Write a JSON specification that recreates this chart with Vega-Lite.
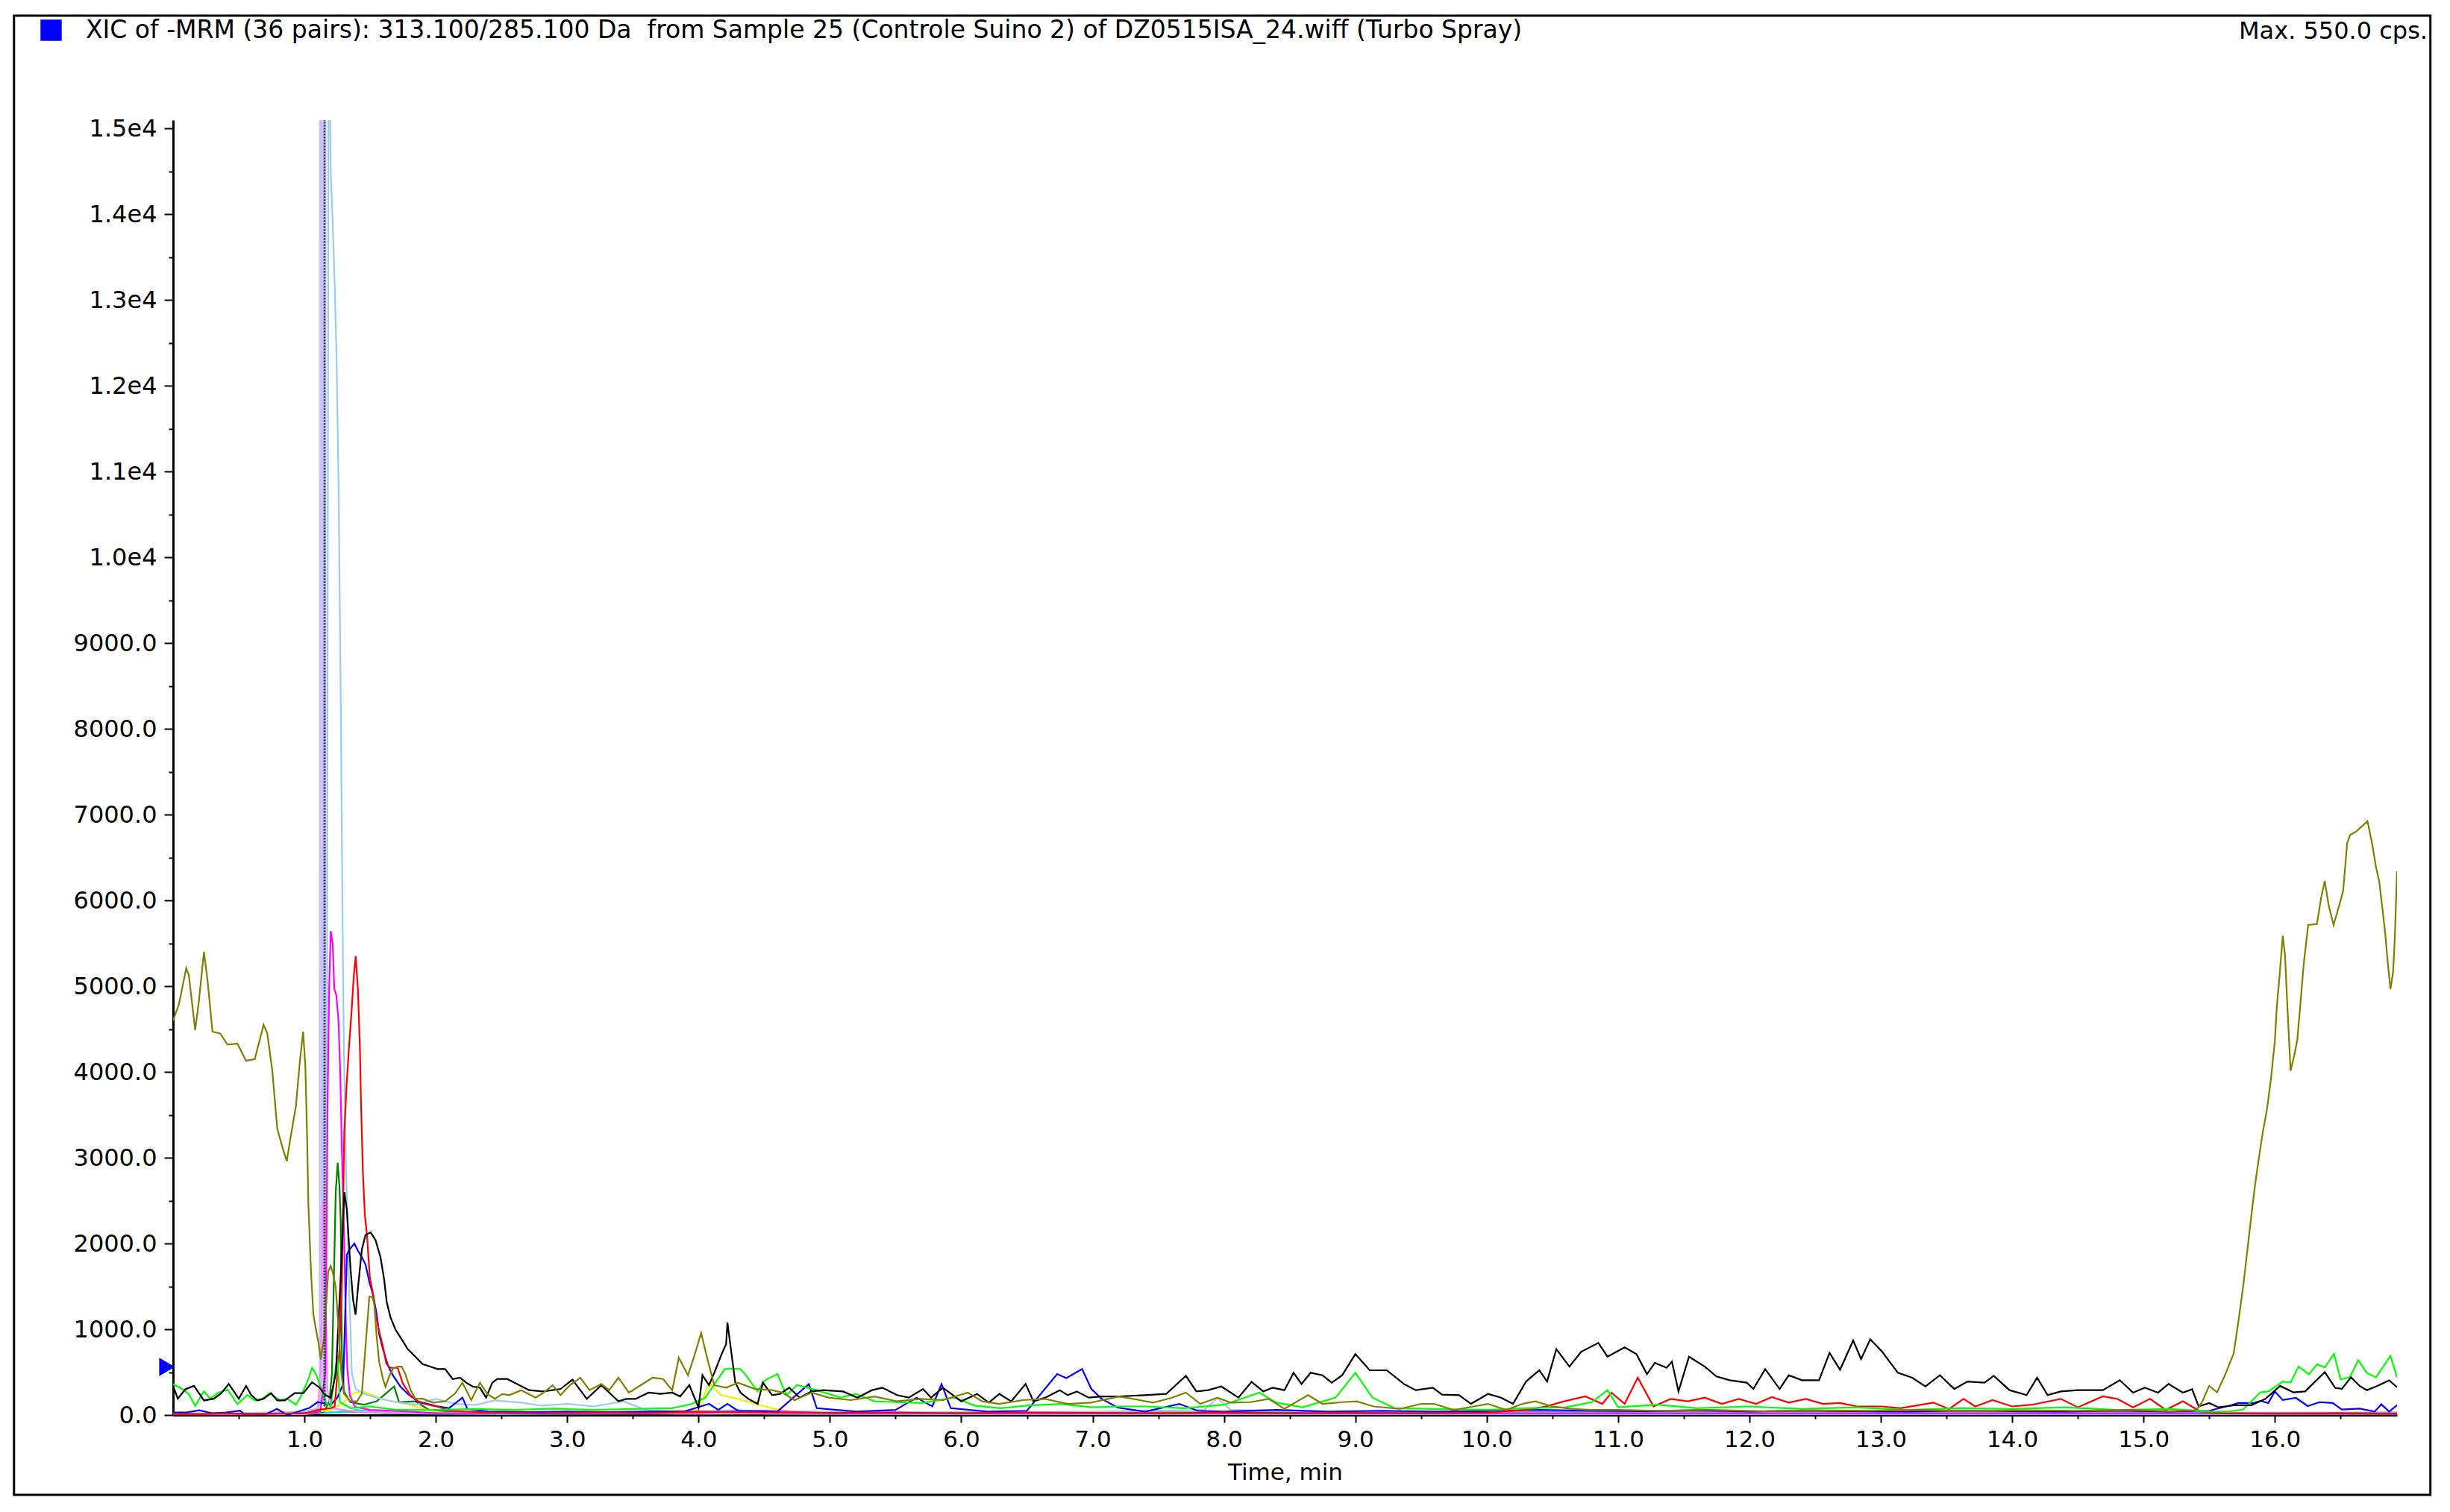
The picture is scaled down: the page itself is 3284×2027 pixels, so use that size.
{
  "$schema": "https://vega.github.io/schema/vega-lite/v6.json",
  "autosize": "none",
  "width": 2981,
  "height": 1736,
  "padding": {"left": 232, "top": 161, "right": 71, "bottom": 130},
  "background": "#ffffff",
  "config": {
    "view": {"stroke": null},
    "font": "DejaVu Sans"
  },
  "title": {
    "text": "Max. 550.0 cps.",
    "anchor": "end",
    "frame": "group",
    "font": "DejaVu Sans",
    "fontSize": 32,
    "fontWeight": "normal",
    "color": "#000000",
    "offset": -39,
    "dx": 41
  },
  "datasets": {
    "main": [
      {"s":"gray","t":0,"v":15},{"s":"gray","t":1,"v":10},{"s":"gray","t":1.3,"v":40},{"s":"gray","t":1.6,"v":25},{"s":"gray","t":2,"v":15},{"s":"gray","t":3,"v":20},{"s":"gray","t":4,"v":15},{"s":"gray","t":5,"v":20},{"s":"gray","t":6,"v":15},{"s":"gray","t":7,"v":20},{"s":"gray","t":8,"v":15},{"s":"gray","t":9,"v":20},{"s":"gray","t":10,"v":15},{"s":"gray","t":11,"v":20},{"s":"gray","t":12,"v":15},{"s":"gray","t":13,"v":20},{"s":"gray","t":14,"v":15},{"s":"gray","t":15,"v":20},{"s":"gray","t":16,"v":15},{"s":"gray","t":16.93,"v":15},
      {"s":"cyan","t":0,"v":8},{"s":"cyan","t":1.2,"v":30},{"s":"cyan","t":1.4,"v":60},{"s":"cyan","t":1.6,"v":20},{"s":"cyan","t":2.5,"v":10},{"s":"cyan","t":4.0,"v":20},{"s":"cyan","t":4.3,"v":60},{"s":"cyan","t":4.5,"v":15},{"s":"cyan","t":6,"v":8},{"s":"cyan","t":8,"v":10},{"s":"cyan","t":10,"v":8},{"s":"cyan","t":12,"v":10},{"s":"cyan","t":14,"v":8},{"s":"cyan","t":16,"v":10},{"s":"cyan","t":16.5,"v":25},{"s":"cyan","t":16.93,"v":30},
      {"s":"dkgreen","t":0,"v":5},{"s":"dkgreen","t":0.5,"v":10},{"s":"dkgreen","t":1.0,"v":10},{"s":"dkgreen","t":1.15,"v":40},{"s":"dkgreen","t":1.19,"v":160},{"s":"dkgreen","t":1.209,"v":478},{"s":"dkgreen","t":1.228,"v":1870},{"s":"dkgreen","t":1.238,"v":2595},{"s":"dkgreen","t":1.253,"v":2942},{"s":"dkgreen","t":1.266,"v":2681},{"s":"dkgreen","t":1.276,"v":2276},{"s":"dkgreen","t":1.285,"v":710},{"s":"dkgreen","t":1.3,"v":275},{"s":"dkgreen","t":1.35,"v":150},{"s":"dkgreen","t":1.45,"v":120},{"s":"dkgreen","t":1.55,"v":160},{"s":"dkgreen","t":1.683,"v":333},{"s":"dkgreen","t":1.72,"v":150},{"s":"dkgreen","t":1.844,"v":159},{"s":"dkgreen","t":1.95,"v":60},{"s":"dkgreen","t":2.2,"v":30},{"s":"dkgreen","t":3,"v":30},{"s":"dkgreen","t":4,"v":40},{"s":"dkgreen","t":5,"v":30},{"s":"dkgreen","t":6,"v":30},{"s":"dkgreen","t":7,"v":30},{"s":"dkgreen","t":8,"v":30},{"s":"dkgreen","t":9,"v":30},{"s":"dkgreen","t":10,"v":30},{"s":"dkgreen","t":11,"v":40},{"s":"dkgreen","t":12,"v":30},{"s":"dkgreen","t":13,"v":30},{"s":"dkgreen","t":14,"v":30},{"s":"dkgreen","t":15,"v":30},{"s":"dkgreen","t":16,"v":20},{"s":"dkgreen","t":16.93,"v":20},
      {"s":"yellow","t":0,"v":10},{"s":"yellow","t":0.5,"v":10},{"s":"yellow","t":1.0,"v":15},{"s":"yellow","t":1.2,"v":60},{"s":"yellow","t":1.3,"v":150},{"s":"yellow","t":1.38,"v":261},{"s":"yellow","t":1.45,"v":270},{"s":"yellow","t":1.52,"v":232},{"s":"yellow","t":1.6,"v":180},{"s":"yellow","t":1.67,"v":159},{"s":"yellow","t":1.8,"v":120},{"s":"yellow","t":2.0,"v":29},{"s":"yellow","t":2.5,"v":20},{"s":"yellow","t":3.0,"v":25},{"s":"yellow","t":3.5,"v":20},{"s":"yellow","t":4.0,"v":60},{"s":"yellow","t":4.08,"v":377},{"s":"yellow","t":4.17,"v":232},{"s":"yellow","t":4.3,"v":188},{"s":"yellow","t":4.43,"v":130},{"s":"yellow","t":4.56,"v":80},{"s":"yellow","t":4.7,"v":40},{"s":"yellow","t":5,"v":25},{"s":"yellow","t":6,"v":20},{"s":"yellow","t":7,"v":20},{"s":"yellow","t":8,"v":20},{"s":"yellow","t":10,"v":20},{"s":"yellow","t":12,"v":20},{"s":"yellow","t":14,"v":20},{"s":"yellow","t":16,"v":20},{"s":"yellow","t":16.93,"v":20},
      {"s":"ltblue","t":0,"v":20},{"s":"ltblue","t":0.5,"v":20},{"s":"ltblue","t":1.0,"v":40},{"s":"ltblue","t":1.1,"v":80},{"s":"ltblue","t":1.15,"v":200},{"s":"ltblue","t":1.17,"v":3000},{"s":"ltblue","t":1.185,"v":17000},{"s":"ltblue","t":1.2,"v":14500},{"s":"ltblue","t":1.215,"v":13900},{"s":"ltblue","t":1.23,"v":13200},{"s":"ltblue","t":1.245,"v":12300},{"s":"ltblue","t":1.26,"v":10800},{"s":"ltblue","t":1.276,"v":8400},{"s":"ltblue","t":1.29,"v":5800},{"s":"ltblue","t":1.3,"v":4300},{"s":"ltblue","t":1.317,"v":2855},{"s":"ltblue","t":1.342,"v":1406},{"s":"ltblue","t":1.361,"v":478},{"s":"ltblue","t":1.39,"v":304},{"s":"ltblue","t":1.45,"v":250},{"s":"ltblue","t":1.55,"v":200},{"s":"ltblue","t":1.7,"v":150},{"s":"ltblue","t":1.85,"v":120},{"s":"ltblue","t":2.0,"v":188},{"s":"ltblue","t":2.15,"v":130},{"s":"ltblue","t":2.3,"v":116},{"s":"ltblue","t":2.45,"v":170},{"s":"ltblue","t":2.65,"v":145},{"s":"ltblue","t":2.8,"v":110},{"s":"ltblue","t":3.0,"v":130},{"s":"ltblue","t":3.2,"v":100},{"s":"ltblue","t":3.43,"v":160},{"s":"ltblue","t":3.6,"v":58},{"s":"ltblue","t":3.8,"v":40},{"s":"ltblue","t":4.2,"v":50},{"s":"ltblue","t":5,"v":40},{"s":"ltblue","t":6,"v":30},{"s":"ltblue","t":7,"v":40},{"s":"ltblue","t":7.85,"v":60},{"s":"ltblue","t":7.95,"v":200},{"s":"ltblue","t":8.05,"v":60},{"s":"ltblue","t":9,"v":30},{"s":"ltblue","t":12,"v":30},{"s":"ltblue","t":16.93,"v":30},
      {"s":"pink","t":0,"v":5},{"s":"pink","t":1.0,"v":10},{"s":"pink","t":1.1,"v":40},{"s":"pink","t":1.125,"v":600},{"s":"pink","t":1.14,"v":2500},{"s":"pink","t":1.148,"v":2450},{"s":"pink","t":1.16,"v":1500},{"s":"pink","t":1.175,"v":300},{"s":"pink","t":1.2,"v":80},{"s":"pink","t":1.4,"v":40},{"s":"pink","t":2.0,"v":20},{"s":"pink","t":5.0,"v":15},{"s":"pink","t":10.0,"v":15},{"s":"pink","t":16.93,"v":15},
      {"s":"magenta","t":0,"v":10},{"s":"magenta","t":0.5,"v":15},{"s":"magenta","t":1.0,"v":20},{"s":"magenta","t":1.12,"v":40},{"s":"magenta","t":1.16,"v":500},{"s":"magenta","t":1.176,"v":3605},{"s":"magenta","t":1.188,"v":4970},{"s":"magenta","t":1.2,"v":5643},{"s":"magenta","t":1.215,"v":5497},{"s":"magenta","t":1.227,"v":4970},{"s":"magenta","t":1.242,"v":4900},{"s":"magenta","t":1.259,"v":4606},{"s":"magenta","t":1.273,"v":3969},{"s":"magenta","t":1.285,"v":3058},{"s":"magenta","t":1.298,"v":2374},{"s":"magenta","t":1.307,"v":1690},{"s":"magenta","t":1.317,"v":961},{"s":"magenta","t":1.326,"v":551},{"s":"magenta","t":1.345,"v":232},{"s":"magenta","t":1.384,"v":96},{"s":"magenta","t":1.5,"v":60},{"s":"magenta","t":1.8,"v":40},{"s":"magenta","t":2.0,"v":20},{"s":"magenta","t":3.0,"v":20},{"s":"magenta","t":4.0,"v":30},{"s":"magenta","t":4.5,"v":50},{"s":"magenta","t":5.0,"v":20},{"s":"magenta","t":8.0,"v":20},{"s":"magenta","t":12.0,"v":20},{"s":"magenta","t":16.93,"v":20},
      {"s":"313.100/285.100 Da","t":0,"v":30},{"s":"313.100/285.100 Da","t":0.1,"v":30},{"s":"313.100/285.100 Da","t":0.2,"v":55},{"s":"313.100/285.100 Da","t":0.3,"v":20},{"s":"313.100/285.100 Da","t":0.4,"v":30},{"s":"313.100/285.100 Da","t":0.51,"v":50},{"s":"313.100/285.100 Da","t":0.55,"v":0},{"s":"313.100/285.100 Da","t":0.7,"v":5},{"s":"313.100/285.100 Da","t":0.79,"v":72},{"s":"313.100/285.100 Da","t":0.87,"v":0},{"s":"313.100/285.100 Da","t":0.96,"v":43},{"s":"313.100/285.100 Da","t":1.04,"v":85},{"s":"313.100/285.100 Da","t":1.1,"v":150},{"s":"313.100/285.100 Da","t":1.2,"v":120},{"s":"313.100/285.100 Da","t":1.25,"v":200},{"s":"313.100/285.100 Da","t":1.295,"v":362},{"s":"313.100/285.100 Da","t":1.323,"v":1870},{"s":"313.100/285.100 Da","t":1.342,"v":1928},{"s":"313.100/285.100 Da","t":1.38,"v":2000},{"s":"313.100/285.100 Da","t":1.408,"v":1913},{"s":"313.100/285.100 Da","t":1.437,"v":1841},{"s":"313.100/285.100 Da","t":1.465,"v":1754},{"s":"313.100/285.100 Da","t":1.494,"v":1551},{"s":"313.100/285.100 Da","t":1.522,"v":1406},{"s":"313.100/285.100 Da","t":1.55,"v":1174},{"s":"313.100/285.100 Da","t":1.569,"v":942},{"s":"313.100/285.100 Da","t":1.598,"v":768},{"s":"313.100/285.100 Da","t":1.635,"v":580},{"s":"313.100/285.100 Da","t":1.673,"v":464},{"s":"313.100/285.100 Da","t":1.73,"v":333},{"s":"313.100/285.100 Da","t":1.787,"v":246},{"s":"313.100/285.100 Da","t":1.862,"v":159},{"s":"313.100/285.100 Da","t":1.938,"v":130},{"s":"313.100/285.100 Da","t":2.014,"v":101},{"s":"313.100/285.100 Da","t":2.1,"v":80},{"s":"313.100/285.100 Da","t":2.203,"v":203},{"s":"313.100/285.100 Da","t":2.24,"v":72},{"s":"313.100/285.100 Da","t":2.4,"v":40},{"s":"313.100/285.100 Da","t":2.7,"v":35},{"s":"313.100/285.100 Da","t":3.0,"v":40},{"s":"313.100/285.100 Da","t":3.3,"v":35},{"s":"313.100/285.100 Da","t":3.6,"v":40},{"s":"313.100/285.100 Da","t":3.9,"v":45},{"s":"313.100/285.100 Da","t":4.08,"v":130},{"s":"313.100/285.100 Da","t":4.15,"v":60},{"s":"313.100/285.100 Da","t":4.22,"v":130},{"s":"313.100/285.100 Da","t":4.3,"v":50},{"s":"313.100/285.100 Da","t":4.6,"v":40},{"s":"313.100/285.100 Da","t":4.84,"v":362},{"s":"313.100/285.100 Da","t":4.9,"v":80},{"s":"313.100/285.100 Da","t":5.2,"v":40},{"s":"313.100/285.100 Da","t":5.5,"v":60},{"s":"313.100/285.100 Da","t":5.66,"v":203},{"s":"313.100/285.100 Da","t":5.78,"v":100},{"s":"313.100/285.100 Da","t":5.85,"v":362},{"s":"313.100/285.100 Da","t":5.92,"v":80},{"s":"313.100/285.100 Da","t":6.2,"v":40},{"s":"313.100/285.100 Da","t":6.5,"v":50},{"s":"313.100/285.100 Da","t":6.73,"v":478},{"s":"313.100/285.100 Da","t":6.8,"v":430},{"s":"313.100/285.100 Da","t":6.92,"v":536},{"s":"313.100/285.100 Da","t":6.99,"v":304},{"s":"313.100/285.100 Da","t":7.07,"v":188},{"s":"313.100/285.100 Da","t":7.19,"v":87},{"s":"313.100/285.100 Da","t":7.4,"v":40},{"s":"313.100/285.100 Da","t":7.66,"v":130},{"s":"313.100/285.100 Da","t":7.8,"v":50},{"s":"313.100/285.100 Da","t":8.0,"v":40},{"s":"313.100/285.100 Da","t":8.4,"v":60},{"s":"313.100/285.100 Da","t":8.8,"v":40},{"s":"313.100/285.100 Da","t":9.2,"v":50},{"s":"313.100/285.100 Da","t":9.6,"v":40},{"s":"313.100/285.100 Da","t":10.0,"v":45},{"s":"313.100/285.100 Da","t":10.4,"v":60},{"s":"313.100/285.100 Da","t":10.8,"v":50},{"s":"313.100/285.100 Da","t":11.2,"v":45},{"s":"313.100/285.100 Da","t":11.6,"v":55},{"s":"313.100/285.100 Da","t":12.0,"v":40},{"s":"313.100/285.100 Da","t":12.4,"v":50},{"s":"313.100/285.100 Da","t":12.8,"v":45},{"s":"313.100/285.100 Da","t":13.2,"v":40},{"s":"313.100/285.100 Da","t":13.6,"v":50},{"s":"313.100/285.100 Da","t":14.0,"v":45},{"s":"313.100/285.100 Da","t":14.4,"v":40},{"s":"313.100/285.100 Da","t":14.8,"v":50},{"s":"313.100/285.100 Da","t":15.2,"v":40},{"s":"313.100/285.100 Da","t":15.5,"v":50},{"s":"313.100/285.100 Da","t":15.67,"v":115},{"s":"313.100/285.100 Da","t":15.72,"v":140},{"s":"313.100/285.100 Da","t":15.84,"v":140},{"s":"313.100/285.100 Da","t":15.89,"v":165},{"s":"313.100/285.100 Da","t":15.95,"v":140},{"s":"313.100/285.100 Da","t":16.0,"v":275},{"s":"313.100/285.100 Da","t":16.06,"v":175},{"s":"313.100/285.100 Da","t":16.16,"v":200},{"s":"313.100/285.100 Da","t":16.25,"v":105},{"s":"313.100/285.100 Da","t":16.34,"v":150},{"s":"313.100/285.100 Da","t":16.44,"v":140},{"s":"313.100/285.100 Da","t":16.51,"v":65},{"s":"313.100/285.100 Da","t":16.645,"v":75},{"s":"313.100/285.100 Da","t":16.76,"v":40},{"s":"313.100/285.100 Da","t":16.81,"v":125},{"s":"313.100/285.100 Da","t":16.87,"v":40},{"s":"313.100/285.100 Da","t":16.93,"v":115},
      {"s":"red","t":0,"v":15},{"s":"red","t":0.2,"v":10},{"s":"red","t":0.4,"v":20},{"s":"red","t":0.6,"v":10},{"s":"red","t":0.8,"v":15},{"s":"red","t":1.0,"v":20},{"s":"red","t":1.1,"v":60},{"s":"red","t":1.2,"v":80},{"s":"red","t":1.23,"v":100},{"s":"red","t":1.265,"v":730},{"s":"red","t":1.285,"v":1550},{"s":"red","t":1.303,"v":3285},{"s":"red","t":1.322,"v":3880},{"s":"red","t":1.341,"v":4330},{"s":"red","t":1.36,"v":4740},{"s":"red","t":1.376,"v":5130},{"s":"red","t":1.39,"v":5350},{"s":"red","t":1.407,"v":4970},{"s":"red","t":1.422,"v":4290},{"s":"red","t":1.432,"v":3560},{"s":"red","t":1.445,"v":2830},{"s":"red","t":1.46,"v":2330},{"s":"red","t":1.476,"v":2100},{"s":"red","t":1.498,"v":1600},{"s":"red","t":1.521,"v":1420},{"s":"red","t":1.546,"v":1140},{"s":"red","t":1.571,"v":960},{"s":"red","t":1.594,"v":825},{"s":"red","t":1.623,"v":600},{"s":"red","t":1.652,"v":550},{"s":"red","t":1.71,"v":550},{"s":"red","t":1.748,"v":370},{"s":"red","t":1.806,"v":232},{"s":"red","t":1.883,"v":141},{"s":"red","t":2.016,"v":96},{"s":"red","t":2.11,"v":50},{"s":"red","t":2.4,"v":30},{"s":"red","t":2.8,"v":20},{"s":"red","t":3.2,"v":30},{"s":"red","t":3.6,"v":20},{"s":"red","t":4.0,"v":40},{"s":"red","t":4.5,"v":30},{"s":"red","t":5.0,"v":25},{"s":"red","t":5.5,"v":30},{"s":"red","t":6.0,"v":20},{"s":"red","t":6.5,"v":30},{"s":"red","t":7.0,"v":25},{"s":"red","t":7.5,"v":20},{"s":"red","t":8.0,"v":30},{"s":"red","t":8.5,"v":20},{"s":"red","t":9.0,"v":25},{"s":"red","t":9.5,"v":20},{"s":"red","t":10.0,"v":30},{"s":"red","t":10.3,"v":60},{"s":"red","t":10.45,"v":100},{"s":"red","t":10.59,"v":160},{"s":"red","t":10.75,"v":218},{"s":"red","t":10.88,"v":130},{"s":"red","t":10.95,"v":261},{"s":"red","t":11.05,"v":130},{"s":"red","t":11.15,"v":435},{"s":"red","t":11.27,"v":100},{"s":"red","t":11.4,"v":188},{"s":"red","t":11.53,"v":160},{"s":"red","t":11.66,"v":203},{"s":"red","t":11.79,"v":130},{"s":"red","t":11.92,"v":188},{"s":"red","t":12.05,"v":130},{"s":"red","t":12.17,"v":209},{"s":"red","t":12.3,"v":145},{"s":"red","t":12.43,"v":188},{"s":"red","t":12.56,"v":130},{"s":"red","t":12.69,"v":140},{"s":"red","t":12.82,"v":100},{"s":"red","t":13.01,"v":100},{"s":"red","t":13.15,"v":80},{"s":"red","t":13.4,"v":145},{"s":"red","t":13.52,"v":70},{"s":"red","t":13.63,"v":188},{"s":"red","t":13.72,"v":100},{"s":"red","t":13.85,"v":174},{"s":"red","t":14.0,"v":100},{"s":"red","t":14.15,"v":120},{"s":"red","t":14.37,"v":188},{"s":"red","t":14.5,"v":90},{"s":"red","t":14.69,"v":218},{"s":"red","t":14.8,"v":188},{"s":"red","t":14.92,"v":90},{"s":"red","t":15.05,"v":188},{"s":"red","t":15.17,"v":60},{"s":"red","t":15.3,"v":160},{"s":"red","t":15.43,"v":43},{"s":"red","t":15.6,"v":20},{"s":"red","t":16.0,"v":15},{"s":"red","t":16.5,"v":20},{"s":"red","t":16.93,"v":15},
      {"s":"green","t":0,"v":362},{"s":"green","t":0.074,"v":298},{"s":"green","t":0.121,"v":243},{"s":"green","t":0.168,"v":106},{"s":"green","t":0.235,"v":277},{"s":"green","t":0.282,"v":191},{"s":"green","t":0.339,"v":255},{"s":"green","t":0.414,"v":298},{"s":"green","t":0.49,"v":128},{"s":"green","t":0.566,"v":234},{"s":"green","t":0.622,"v":170},{"s":"green","t":0.679,"v":191},{"s":"green","t":0.736,"v":255},{"s":"green","t":0.812,"v":170},{"s":"green","t":0.868,"v":191},{"s":"green","t":0.935,"v":120},{"s":"green","t":0.973,"v":217},{"s":"green","t":1.03,"v":420},{"s":"green","t":1.058,"v":550},{"s":"green","t":1.077,"v":507},{"s":"green","t":1.096,"v":447},{"s":"green","t":1.124,"v":320},{"s":"green","t":1.16,"v":150},{"s":"green","t":1.2,"v":100},{"s":"green","t":1.25,"v":700},{"s":"green","t":1.27,"v":150},{"s":"green","t":1.35,"v":80},{"s":"green","t":1.5,"v":100},{"s":"green","t":1.7,"v":60},{"s":"green","t":2.0,"v":60},{"s":"green","t":2.3,"v":70},{"s":"green","t":2.6,"v":60},{"s":"green","t":2.9,"v":75},{"s":"green","t":3.2,"v":60},{"s":"green","t":3.5,"v":70},{"s":"green","t":3.8,"v":80},{"s":"green","t":3.95,"v":130},{"s":"green","t":4.05,"v":200},{"s":"green","t":4.2,"v":536},{"s":"green","t":4.26,"v":540},{"s":"green","t":4.32,"v":536},{"s":"green","t":4.36,"v":464},{"s":"green","t":4.45,"v":275},{"s":"green","t":4.5,"v":400},{"s":"green","t":4.6,"v":478},{"s":"green","t":4.67,"v":232},{"s":"green","t":4.75,"v":350},{"s":"green","t":4.9,"v":290},{"s":"green","t":5.08,"v":203},{"s":"green","t":5.2,"v":246},{"s":"green","t":5.34,"v":160},{"s":"green","t":5.5,"v":150},{"s":"green","t":5.7,"v":140},{"s":"green","t":5.95,"v":203},{"s":"green","t":6.1,"v":110},{"s":"green","t":6.3,"v":80},{"s":"green","t":6.5,"v":110},{"s":"green","t":6.75,"v":130},{"s":"green","t":7.0,"v":90},{"s":"green","t":7.2,"v":100},{"s":"green","t":7.4,"v":100},{"s":"green","t":7.7,"v":80},{"s":"green","t":8.0,"v":120},{"s":"green","t":8.27,"v":261},{"s":"green","t":8.4,"v":145},{"s":"green","t":8.6,"v":90},{"s":"green","t":8.85,"v":203},{"s":"green","t":9.0,"v":493},{"s":"green","t":9.13,"v":203},{"s":"green","t":9.3,"v":80},{"s":"green","t":9.6,"v":70},{"s":"green","t":10.0,"v":60},{"s":"green","t":10.3,"v":80},{"s":"green","t":10.6,"v":90},{"s":"green","t":10.8,"v":150},{"s":"green","t":10.92,"v":290},{"s":"green","t":11.0,"v":90},{"s":"green","t":11.3,"v":120},{"s":"green","t":11.6,"v":80},{"s":"green","t":12.0,"v":100},{"s":"green","t":12.4,"v":70},{"s":"green","t":12.8,"v":90},{"s":"green","t":13.2,"v":60},{"s":"green","t":13.6,"v":80},{"s":"green","t":14.0,"v":70},{"s":"green","t":14.4,"v":90},{"s":"green","t":14.8,"v":60},{"s":"green","t":15.2,"v":70},{"s":"green","t":15.5,"v":40},{"s":"green","t":15.65,"v":40},{"s":"green","t":15.76,"v":65},{"s":"green","t":15.89,"v":265},{"s":"green","t":15.95,"v":275},{"s":"green","t":16.06,"v":390},{"s":"green","t":16.12,"v":380},{"s":"green","t":16.18,"v":565},{"s":"green","t":16.26,"v":475},{"s":"green","t":16.32,"v":590},{"s":"green","t":16.38,"v":555},{"s":"green","t":16.45,"v":715},{"s":"green","t":16.5,"v":415},{"s":"green","t":16.57,"v":440},{"s":"green","t":16.635,"v":640},{"s":"green","t":16.7,"v":490},{"s":"green","t":16.77,"v":440},{"s":"green","t":16.88,"v":690},{"s":"green","t":16.93,"v":440},
      {"s":"black","t":0,"v":340},{"s":"black","t":0.036,"v":190},{"s":"black","t":0.093,"v":300},{"s":"black","t":0.159,"v":340},{"s":"black","t":0.197,"v":255},{"s":"black","t":0.235,"v":170},{"s":"black","t":0.31,"v":190},{"s":"black","t":0.367,"v":255},{"s":"black","t":0.424,"v":362},{"s":"black","t":0.462,"v":277},{"s":"black","t":0.5,"v":190},{"s":"black","t":0.556,"v":340},{"s":"black","t":0.594,"v":234},{"s":"black","t":0.642,"v":170},{"s":"black","t":0.689,"v":190},{"s":"black","t":0.746,"v":255},{"s":"black","t":0.793,"v":170},{"s":"black","t":0.85,"v":170},{"s":"black","t":0.926,"v":255},{"s":"black","t":0.992,"v":255},{"s":"black","t":1.058,"v":383},{"s":"black","t":1.115,"v":320},{"s":"black","t":1.153,"v":240},{"s":"black","t":1.2,"v":200},{"s":"black","t":1.24,"v":500},{"s":"black","t":1.276,"v":1610},{"s":"black","t":1.304,"v":2600},{"s":"black","t":1.323,"v":2390},{"s":"black","t":1.336,"v":2070},{"s":"black","t":1.351,"v":1700},{"s":"black","t":1.37,"v":1350},{"s":"black","t":1.389,"v":1170},{"s":"black","t":1.408,"v":1490},{"s":"black","t":1.437,"v":1930},{"s":"black","t":1.465,"v":2100},{"s":"black","t":1.503,"v":2130},{"s":"black","t":1.541,"v":2040},{"s":"black","t":1.579,"v":1840},{"s":"black","t":1.607,"v":1580},{"s":"black","t":1.626,"v":1320},{"s":"black","t":1.654,"v":1145},{"s":"black","t":1.692,"v":1000},{"s":"black","t":1.74,"v":884},{"s":"black","t":1.787,"v":768},{"s":"black","t":1.844,"v":681},{"s":"black","t":1.9,"v":594},{"s":"black","t":1.957,"v":565},{"s":"black","t":2.014,"v":536},{"s":"black","t":2.071,"v":536},{"s":"black","t":2.128,"v":420},{"s":"black","t":2.184,"v":435},{"s":"black","t":2.232,"v":377},{"s":"black","t":2.28,"v":333},{"s":"black","t":2.336,"v":319},{"s":"black","t":2.383,"v":203},{"s":"black","t":2.43,"v":377},{"s":"black","t":2.468,"v":420},{"s":"black","t":2.544,"v":420},{"s":"black","t":2.6,"v":377},{"s":"black","t":2.71,"v":290},{"s":"black","t":2.82,"v":275},{"s":"black","t":2.95,"v":304},{"s":"black","t":3.04,"v":412},{"s":"black","t":3.15,"v":188},{"s":"black","t":3.26,"v":348},{"s":"black","t":3.39,"v":160},{"s":"black","t":3.45,"v":188},{"s":"black","t":3.52,"v":188},{"s":"black","t":3.62,"v":261},{"s":"black","t":3.71,"v":246},{"s":"black","t":3.8,"v":261},{"s":"black","t":3.86,"v":217},{"s":"black","t":3.93,"v":348},{"s":"black","t":4.0,"v":87},{"s":"black","t":4.03,"v":464},{"s":"black","t":4.08,"v":348},{"s":"black","t":4.12,"v":493},{"s":"black","t":4.18,"v":725},{"s":"black","t":4.21,"v":826},{"s":"black","t":4.22,"v":1079},{"s":"black","t":4.245,"v":783},{"s":"black","t":4.28,"v":377},{"s":"black","t":4.32,"v":261},{"s":"black","t":4.38,"v":188},{"s":"black","t":4.45,"v":130},{"s":"black","t":4.49,"v":377},{"s":"black","t":4.56,"v":232},{"s":"black","t":4.62,"v":246},{"s":"black","t":4.69,"v":319},{"s":"black","t":4.77,"v":203},{"s":"black","t":4.86,"v":275},{"s":"black","t":4.95,"v":290},{"s":"black","t":5.1,"v":275},{"s":"black","t":5.21,"v":203},{"s":"black","t":5.32,"v":290},{"s":"black","t":5.4,"v":319},{"s":"black","t":5.51,"v":232},{"s":"black","t":5.6,"v":203},{"s":"black","t":5.71,"v":304},{"s":"black","t":5.77,"v":203},{"s":"black","t":5.86,"v":319},{"s":"black","t":6.0,"v":160},{"s":"black","t":6.12,"v":246},{"s":"black","t":6.21,"v":145},{"s":"black","t":6.29,"v":246},{"s":"black","t":6.38,"v":160},{"s":"black","t":6.49,"v":362},{"s":"black","t":6.55,"v":160},{"s":"black","t":6.64,"v":203},{"s":"black","t":6.75,"v":290},{"s":"black","t":6.81,"v":232},{"s":"black","t":6.88,"v":275},{"s":"black","t":6.97,"v":203},{"s":"black","t":7.07,"v":217},{"s":"black","t":7.2,"v":217},{"s":"black","t":7.4,"v":232},{"s":"black","t":7.56,"v":246},{"s":"black","t":7.71,"v":458},{"s":"black","t":7.79,"v":275},{"s":"black","t":7.88,"v":290},{"s":"black","t":7.98,"v":333},{"s":"black","t":8.11,"v":203},{"s":"black","t":8.21,"v":386},{"s":"black","t":8.3,"v":275},{"s":"black","t":8.37,"v":319},{"s":"black","t":8.46,"v":290},{"s":"black","t":8.53,"v":493},{"s":"black","t":8.59,"v":362},{"s":"black","t":8.66,"v":493},{"s":"black","t":8.75,"v":464},{"s":"black","t":8.82,"v":377},{"s":"black","t":8.9,"v":464},{"s":"black","t":9.0,"v":710},{"s":"black","t":9.11,"v":522},{"s":"black","t":9.24,"v":522},{"s":"black","t":9.37,"v":362},{"s":"black","t":9.46,"v":290},{"s":"black","t":9.59,"v":319},{"s":"black","t":9.66,"v":238},{"s":"black","t":9.79,"v":232},{"s":"black","t":9.88,"v":130},{"s":"black","t":10.01,"v":246},{"s":"black","t":10.11,"v":203},{"s":"black","t":10.2,"v":130},{"s":"black","t":10.3,"v":391},{"s":"black","t":10.4,"v":522},{"s":"black","t":10.46,"v":391},{"s":"black","t":10.53,"v":768},{"s":"black","t":10.63,"v":565},{"s":"black","t":10.72,"v":739},{"s":"black","t":10.85,"v":841},{"s":"black","t":10.92,"v":681},{"s":"black","t":11.05,"v":789},{"s":"black","t":11.14,"v":710},{"s":"black","t":11.22,"v":478},{"s":"black","t":11.28,"v":609},{"s":"black","t":11.37,"v":551},{"s":"black","t":11.41,"v":623},{"s":"black","t":11.46,"v":275},{"s":"black","t":11.54,"v":681},{"s":"black","t":11.66,"v":565},{"s":"black","t":11.75,"v":449},{"s":"black","t":11.85,"v":406},{"s":"black","t":11.98,"v":377},{"s":"black","t":12.03,"v":304},{"s":"black","t":12.12,"v":536},{"s":"black","t":12.23,"v":304},{"s":"black","t":12.3,"v":464},{"s":"black","t":12.4,"v":406},{"s":"black","t":12.53,"v":406},{"s":"black","t":12.61,"v":725},{"s":"black","t":12.69,"v":528},{"s":"black","t":12.79,"v":870},{"s":"black","t":12.85,"v":652},{"s":"black","t":12.92,"v":884},{"s":"black","t":13.01,"v":739},{"s":"black","t":13.13,"v":493},{"s":"black","t":13.24,"v":435},{"s":"black","t":13.34,"v":333},{"s":"black","t":13.45,"v":464},{"s":"black","t":13.56,"v":304},{"s":"black","t":13.66,"v":391},{"s":"black","t":13.79,"v":377},{"s":"black","t":13.86,"v":458},{"s":"black","t":13.98,"v":290},{"s":"black","t":14.11,"v":232},{"s":"black","t":14.19,"v":435},{"s":"black","t":14.27,"v":232},{"s":"black","t":14.37,"v":275},{"s":"black","t":14.5,"v":290},{"s":"black","t":14.69,"v":290},{"s":"black","t":14.82,"v":406},{"s":"black","t":14.92,"v":261},{"s":"black","t":15.01,"v":319},{"s":"black","t":15.11,"v":261},{"s":"black","t":15.19,"v":362},{"s":"black","t":15.3,"v":261},{"s":"black","t":15.37,"v":300},{"s":"black","t":15.42,"v":100},{"s":"black","t":15.5,"v":140},{"s":"black","t":15.57,"v":90},{"s":"black","t":15.7,"v":115},{"s":"black","t":15.82,"v":115},{"s":"black","t":15.93,"v":190},{"s":"black","t":16.04,"v":340},{"s":"black","t":16.14,"v":265},{"s":"black","t":16.23,"v":275},{"s":"black","t":16.38,"v":500},{"s":"black","t":16.46,"v":315},{"s":"black","t":16.51,"v":305},{"s":"black","t":16.58,"v":440},{"s":"black","t":16.645,"v":340},{"s":"black","t":16.7,"v":290},{"s":"black","t":16.78,"v":340},{"s":"black","t":16.87,"v":405},{"s":"black","t":16.93,"v":325},
      {"s":"olive","t":0,"v":4600},{"s":"olive","t":0.045,"v":4790},{"s":"olive","t":0.1,"v":5210},{"s":"olive","t":0.12,"v":5130},{"s":"olive","t":0.168,"v":4490},{"s":"olive","t":0.197,"v":4830},{"s":"olive","t":0.235,"v":5400},{"s":"olive","t":0.263,"v":5060},{"s":"olive","t":0.3,"v":4470},{"s":"olive","t":0.358,"v":4450},{"s":"olive","t":0.414,"v":4320},{"s":"olive","t":0.49,"v":4330},{"s":"olive","t":0.556,"v":4130},{"s":"olive","t":0.622,"v":4150},{"s":"olive","t":0.689,"v":4550},{"s":"olive","t":0.717,"v":4450},{"s":"olive","t":0.755,"v":4020},{"s":"olive","t":0.793,"v":3340},{"s":"olive","t":0.831,"v":3130},{"s":"olive","t":0.865,"v":2960},{"s":"olive","t":0.897,"v":3260},{"s":"olive","t":0.935,"v":3600},{"s":"olive","t":0.963,"v":4090},{"s":"olive","t":0.99,"v":4470},{"s":"olive","t":1.007,"v":4060},{"s":"olive","t":1.02,"v":3260},{"s":"olive","t":1.03,"v":2450},{"s":"olive","t":1.05,"v":1670},{"s":"olive","t":1.068,"v":1170},{"s":"olive","t":1.087,"v":1000},{"s":"olive","t":1.106,"v":850},{"s":"olive","t":1.124,"v":650},{"s":"olive","t":1.15,"v":900},{"s":"olive","t":1.181,"v":1670},{"s":"olive","t":1.2,"v":1740},{"s":"olive","t":1.219,"v":1640},{"s":"olive","t":1.238,"v":1490},{"s":"olive","t":1.26,"v":1000},{"s":"olive","t":1.28,"v":500},{"s":"olive","t":1.3,"v":250},{"s":"olive","t":1.35,"v":160},{"s":"olive","t":1.4,"v":160},{"s":"olive","t":1.437,"v":250},{"s":"olive","t":1.46,"v":700},{"s":"olive","t":1.494,"v":1380},{"s":"olive","t":1.515,"v":1380},{"s":"olive","t":1.531,"v":1300},{"s":"olive","t":1.55,"v":910},{"s":"olive","t":1.569,"v":620},{"s":"olive","t":1.598,"v":420},{"s":"olive","t":1.617,"v":330},{"s":"olive","t":1.645,"v":450},{"s":"olive","t":1.673,"v":540},{"s":"olive","t":1.71,"v":565},{"s":"olive","t":1.74,"v":565},{"s":"olive","t":1.768,"v":480},{"s":"olive","t":1.806,"v":300},{"s":"olive","t":1.844,"v":190},{"s":"olive","t":1.9,"v":190},{"s":"olive","t":1.976,"v":145},{"s":"olive","t":2.07,"v":160},{"s":"olive","t":2.146,"v":250},{"s":"olive","t":2.203,"v":377},{"s":"olive","t":2.27,"v":175},{"s":"olive","t":2.336,"v":377},{"s":"olive","t":2.393,"v":245},{"s":"olive","t":2.45,"v":190},{"s":"olive","t":2.506,"v":245},{"s":"olive","t":2.56,"v":232},{"s":"olive","t":2.65,"v":290},{"s":"olive","t":2.76,"v":203},{"s":"olive","t":2.82,"v":261},{"s":"olive","t":2.89,"v":348},{"s":"olive","t":2.95,"v":232},{"s":"olive","t":3.02,"v":348},{"s":"olive","t":3.1,"v":435},{"s":"olive","t":3.17,"v":290},{"s":"olive","t":3.26,"v":362},{"s":"olive","t":3.32,"v":290},{"s":"olive","t":3.39,"v":435},{"s":"olive","t":3.47,"v":261},{"s":"olive","t":3.56,"v":348},{"s":"olive","t":3.65,"v":435},{"s":"olive","t":3.73,"v":420},{"s":"olive","t":3.8,"v":290},{"s":"olive","t":3.85,"v":667},{"s":"olive","t":3.92,"v":464},{"s":"olive","t":3.97,"v":700},{"s":"olive","t":4.02,"v":957},{"s":"olive","t":4.07,"v":638},{"s":"olive","t":4.12,"v":348},{"s":"olive","t":4.21,"v":319},{"s":"olive","t":4.3,"v":377},{"s":"olive","t":4.43,"v":304},{"s":"olive","t":4.56,"v":290},{"s":"olive","t":4.64,"v":261},{"s":"olive","t":4.73,"v":174},{"s":"olive","t":4.86,"v":261},{"s":"olive","t":4.99,"v":203},{"s":"olive","t":5.16,"v":174},{"s":"olive","t":5.34,"v":217},{"s":"olive","t":5.51,"v":160},{"s":"olive","t":5.69,"v":188},{"s":"olive","t":5.86,"v":174},{"s":"olive","t":6.05,"v":261},{"s":"olive","t":6.16,"v":160},{"s":"olive","t":6.29,"v":130},{"s":"olive","t":6.47,"v":174},{"s":"olive","t":6.64,"v":188},{"s":"olive","t":6.81,"v":130},{"s":"olive","t":6.99,"v":145},{"s":"olive","t":7.2,"v":217},{"s":"olive","t":7.3,"v":190},{"s":"olive","t":7.46,"v":145},{"s":"olive","t":7.6,"v":200},{"s":"olive","t":7.71,"v":261},{"s":"olive","t":7.82,"v":130},{"s":"olive","t":7.95,"v":203},{"s":"olive","t":8.05,"v":145},{"s":"olive","t":8.2,"v":150},{"s":"olive","t":8.34,"v":188},{"s":"olive","t":8.46,"v":72},{"s":"olive","t":8.64,"v":232},{"s":"olive","t":8.75,"v":130},{"s":"olive","t":8.9,"v":150},{"s":"olive","t":9.01,"v":160},{"s":"olive","t":9.14,"v":100},{"s":"olive","t":9.34,"v":72},{"s":"olive","t":9.5,"v":130},{"s":"olive","t":9.6,"v":130},{"s":"olive","t":9.75,"v":58},{"s":"olive","t":9.9,"v":100},{"s":"olive","t":10.01,"v":130},{"s":"olive","t":10.15,"v":58},{"s":"olive","t":10.27,"v":130},{"s":"olive","t":10.37,"v":160},{"s":"olive","t":10.5,"v":100},{"s":"olive","t":10.65,"v":70},{"s":"olive","t":10.8,"v":60},{"s":"olive","t":11.0,"v":60},{"s":"olive","t":11.3,"v":50},{"s":"olive","t":11.7,"v":60},{"s":"olive","t":12.1,"v":45},{"s":"olive","t":12.5,"v":55},{"s":"olive","t":12.9,"v":50},{"s":"olive","t":13.3,"v":60},{"s":"olive","t":13.7,"v":45},{"s":"olive","t":14.1,"v":55},{"s":"olive","t":14.5,"v":50},{"s":"olive","t":14.9,"v":60},{"s":"olive","t":15.2,"v":45},{"s":"olive","t":15.385,"v":55},{"s":"olive","t":15.42,"v":90},{"s":"olive","t":15.45,"v":165},{"s":"olive","t":15.5,"v":340},{"s":"olive","t":15.56,"v":265},{"s":"olive","t":15.62,"v":465},{"s":"olive","t":15.686,"v":715},{"s":"olive","t":15.72,"v":1065},{"s":"olive","t":15.76,"v":1515},{"s":"olive","t":15.79,"v":1915},{"s":"olive","t":15.82,"v":2315},{"s":"olive","t":15.85,"v":2690},{"s":"olive","t":15.88,"v":3015},{"s":"olive","t":15.91,"v":3315},{"s":"olive","t":15.94,"v":3565},{"s":"olive","t":15.97,"v":3915},{"s":"olive","t":16.0,"v":4365},{"s":"olive","t":16.015,"v":4765},{"s":"olive","t":16.034,"v":5090},{"s":"olive","t":16.06,"v":5590},{"s":"olive","t":16.077,"v":5365},{"s":"olive","t":16.1,"v":4615},{"s":"olive","t":16.12,"v":4015},{"s":"olive","t":16.147,"v":4190},{"s":"olive","t":16.17,"v":4365},{"s":"olive","t":16.19,"v":4715},{"s":"olive","t":16.22,"v":5265},{"s":"olive","t":16.254,"v":5715},{"s":"olive","t":16.32,"v":5725},{"s":"olive","t":16.353,"v":6040},{"s":"olive","t":16.38,"v":6225},{"s":"olive","t":16.41,"v":5940},{"s":"olive","t":16.447,"v":5715},{"s":"olive","t":16.494,"v":5965},{"s":"olive","t":16.52,"v":6115},{"s":"olive","t":16.55,"v":6665},{"s":"olive","t":16.573,"v":6765},{"s":"olive","t":16.62,"v":6805},{"s":"olive","t":16.705,"v":6925},{"s":"olive","t":16.74,"v":6665},{"s":"olive","t":16.77,"v":6390},{"s":"olive","t":16.795,"v":6215},{"s":"olive","t":16.82,"v":5890},{"s":"olive","t":16.84,"v":5615},{"s":"olive","t":16.86,"v":5265},{"s":"olive","t":16.88,"v":4965},{"s":"olive","t":16.9,"v":5165},{"s":"olive","t":16.913,"v":5565},{"s":"olive","t":16.93,"v":6340}
    ],
    "lavender": [
      {"t":1.135,"v":150},{"t":1.139,"v":40000},{"t":1.143,"v":150}
    ],
    "dotted": [
      {"t":1.15,"v":100},{"t":1.153,"v":40000},{"t":1.156,"v":100}
    ]
  },
  "layer": [
    {
      "data": {"values": [{}]},
      "mark": {"type": "rect", "fill": null, "filled": false, "stroke": "#000000", "strokeWidth": 3, "clip": false},
      "encoding": {
        "x": {"datum": -1.211, "type": "quantitative", "scale": {"domain": [0, 16.93], "nice": false, "zero": false}},
        "x2": {"datum": 17.184},
        "y": {"datum": 16317, "type": "quantitative", "scale": {"domain": [0, 15100], "nice": false}},
        "y2": {"datum": -931}
      }
    },
    {
      "data": {"name": "lavender"},
      "mark": {"type": "line", "color": "#C4C4FF", "strokeWidth": 9, "clip": true},
      "encoding": {
        "x": {"field": "t", "type": "quantitative"},
        "y": {"field": "v", "type": "quantitative"}
      }
    },
    {
      "data": {"name": "main"},
      "mark": {"type": "line", "strokeWidth": 2.2, "clip": true},
      "encoding": {
        "x": {
          "field": "t", "type": "quantitative",
          "axis": {
            "values": [0.5,1,1.5,2,2.5,3,3.5,4,4.5,5,5.5,6,6.5,7,7.5,8,8.5,9,9.5,10,10.5,11,11.5,12,12.5,13,13.5,14,14.5,15,15.5,16,16.5],
            "labelExpr": "datum.value % 1 === 0 ? format(datum.value, '.1f') : ''",
            "tickSize": {"condition": {"test": "datum.value % 1 !== 0", "value": 5}, "value": 10},
            "tickWidth": 2, "tickColor": "#000000",
            "domainColor": "#000000", "domainWidth": 3,
            "labelFont": "DejaVu Sans", "labelFontSize": 31, "labelColor": "#000000", "labelPadding": 8,
            "labelOverlap": false, "labelFlush": false,
            "grid": false,
            "title": "Time, min",
            "titleFont": "DejaVu Sans", "titleFontSize": 31, "titleFontWeight": "normal", "titleColor": "#000000", "titlePadding": 14
          }
        },
        "y": {
          "field": "v", "type": "quantitative",
          "axis": {
            "values": [0,500,1000,1500,2000,2500,3000,3500,4000,4500,5000,5500,6000,6500,7000,7500,8000,8500,9000,9500,10000,10500,11000,11500,12000,12500,13000,13500,14000,14500,15000],
            "labelExpr": "datum.value % 1000 !== 0 ? '' : (datum.value >= 10000 ? format(datum.value / 10000, '.1f') + 'e4' : format(datum.value, '.1f'))",
            "tickSize": {"condition": {"test": "datum.value % 1000 !== 0", "value": 6}, "value": 12},
            "tickWidth": 2, "tickColor": "#000000",
            "domainColor": "#000000", "domainWidth": 3,
            "labelFont": "DejaVu Sans", "labelFontSize": 32, "labelColor": "#000000", "labelPadding": 10,
            "labelOverlap": false, "labelFlush": false,
            "grid": false,
            "title": null
          }
        },
        "color": {
          "field": "s", "type": "nominal",
          "scale": {
            "domain": ["gray","cyan","dkgreen","yellow","ltblue","pink","magenta","313.100/285.100 Da","red","green","black","olive"],
            "range": ["#808080","#00E5E5","#008000","#F2F200","#99CCF0","#FF88FF","#FF00FF","#0000FF","#FF0000","#00FF00","#000000","#808000"]
          },
          "legend": {
            "orient": "none",
            "legendX": -180,
            "legendY": -137,
            "values": ["313.100/285.100 Da"],
            "title": null,
            "padding": 0,
            "symbolType": "square",
            "symbolSize": 700,
            "labelOffset": 30,
            "labelFont": "DejaVu Sans",
            "labelFontSize": 33,
            "labelColor": "#000000",
            "labelLimit": 3000,
            "labelExpr": "'XIC of -MRM (36 pairs): ' + datum.label + '\u00a0 from Sample 25 (Controle Suino 2) of DZ0515ISA_24.wiff (Turbo Spray)'",
            "encode": {
              "symbols": {"update": {"fill": {"value": "#0000FF"}, "stroke": {"value": "#000000"}, "strokeWidth": {"value": 2}}}
            }
          }
        }
      }
    },
    {
      "data": {"name": "dotted"},
      "mark": {"type": "line", "color": "#333333", "strokeWidth": 2, "strokeDash": [2, 2], "clip": true},
      "encoding": {
        "x": {"field": "t", "type": "quantitative"},
        "y": {"field": "v", "type": "quantitative"}
      }
    },
    {
      "data": {"values": [{}]},
      "mark": {"type": "point", "shape": "triangle-right", "filled": true, "color": "#0000FF", "size": 600, "opacity": 1, "xOffset": -8, "clip": false},
      "encoding": {
        "x": {"datum": 0, "type": "quantitative"},
        "y": {"datum": 560, "type": "quantitative"}
      }
    }
  ]
}
